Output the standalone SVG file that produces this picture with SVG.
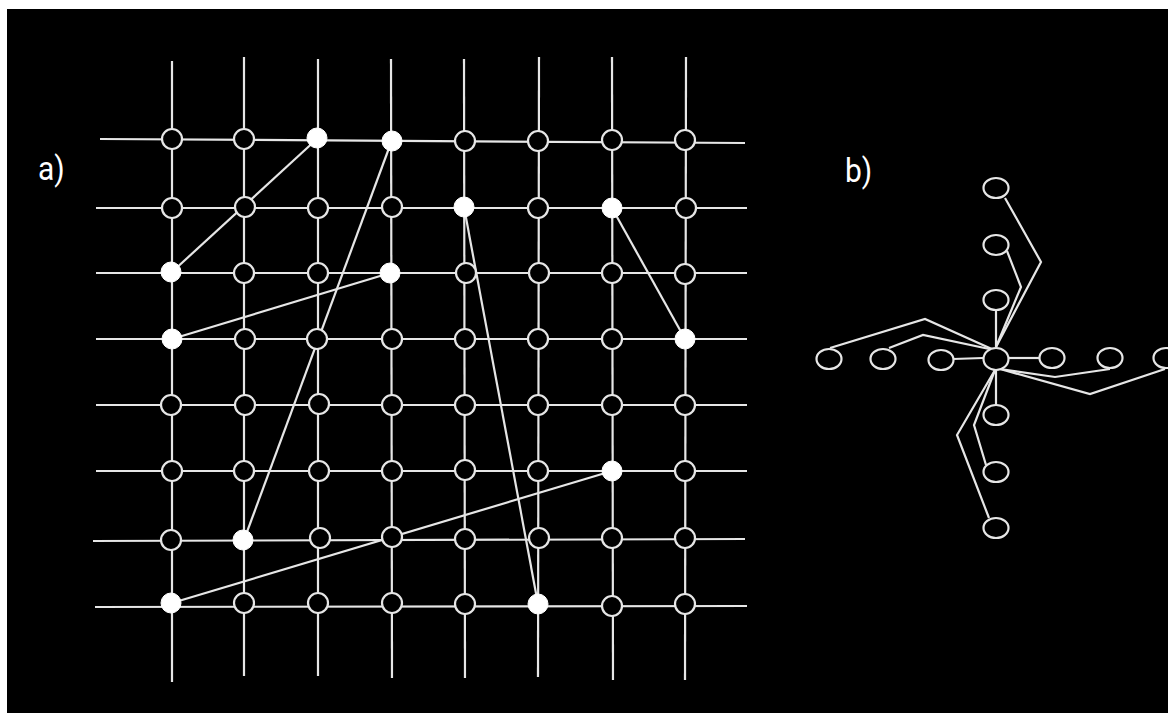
<svg xmlns="http://www.w3.org/2000/svg" width="1168" height="713" viewBox="0 0 1168 713">
<style>
.ln{stroke:#e6e6e6;stroke-width:2.2;fill:none}
.n{fill:#000;stroke:#e6e6e6;stroke-width:2.2}
.f{fill:#fff;stroke:#fff;stroke-width:1}
.lbl{font-family:Roboto,"Liberation Sans",sans-serif;font-size:34px;fill:#fff}
</style>
<rect x="0" y="0" width="1168" height="713" fill="#fff"/>
<rect x="7" y="9" width="1161" height="704" fill="#000"/>
<text class="lbl" transform="translate(38,180) scale(0.88,1)">a)</text>
<text class="lbl" transform="translate(845,182) scale(0.88,1)">b)</text>
<g id="grid" class="ln">
<line x1="172" y1="61" x2="172" y2="682"/>
<line x1="244" y1="57" x2="244" y2="676"/>
<line x1="318" y1="59" x2="318" y2="676"/>
<line x1="391" y1="59" x2="392" y2="678"/>
<line x1="464" y1="59" x2="465" y2="678"/>
<line x1="539" y1="57" x2="538" y2="677"/>
<line x1="612" y1="57" x2="613" y2="680"/>
<line x1="686" y1="57" x2="685" y2="680"/>
<line x1="100" y1="139" x2="745" y2="143"/>
<line x1="96" y1="208" x2="747" y2="208"/>
<line x1="96" y1="273" x2="747" y2="273"/>
<line x1="96" y1="339" x2="747" y2="339"/>
<line x1="96" y1="405" x2="747" y2="405"/>
<line x1="96" y1="471" x2="747" y2="471"/>
<line x1="93" y1="541" x2="745" y2="539"/>
<line x1="95" y1="607" x2="747" y2="606"/>
</g>
<g id="connectors" class="ln">
<line x1="318" y1="138" x2="172" y2="272"/>
<line x1="392" y1="140" x2="244" y2="540"/>
<line x1="390" y1="273" x2="172" y2="339"/>
<line x1="464" y1="207" x2="538" y2="604"/>
<line x1="612" y1="208" x2="685" y2="339"/>
<line x1="612" y1="471" x2="172" y2="603"/>
<line x1="996" y1="311" x2="996" y2="347"/>
<polyline points="1007,251 1021,287 996,347"/>
<polyline points="1005,198 1041,262 996,347"/>
<line x1="953" y1="359" x2="983" y2="358"/>
<polyline points="889,348 923,335 994,350"/>
<polyline points="830,348 925,319 994,350"/>
<line x1="1008" y1="358" x2="1040" y2="358"/>
<polyline points="1000,369 1055,377 1110,369"/>
<polyline points="1000,369 1090,394 1165,369"/>
<line x1="996" y1="369" x2="996" y2="405"/>
<polyline points="995,370 974,425 986,465"/>
<polyline points="995,370 957,435 989,518"/>
</g>
<g id="nodes-a">
<circle class="n" cx="172" cy="139" r="10"/>
<circle class="n" cx="244" cy="139" r="10"/>
<circle class="f" cx="317" cy="138" r="10"/>
<circle class="f" cx="392" cy="141" r="10"/>
<circle class="n" cx="465" cy="141" r="10"/>
<circle class="n" cx="538" cy="141" r="10"/>
<circle class="n" cx="612" cy="140" r="10"/>
<circle class="n" cx="685" cy="140" r="10"/>

<circle class="n" cx="172" cy="208" r="10"/>
<circle class="n" cx="245" cy="207" r="10"/>
<circle class="n" cx="318" cy="208" r="10"/>
<circle class="n" cx="392" cy="207" r="10"/>
<circle class="f" cx="464" cy="207" r="10"/>
<circle class="n" cx="538" cy="208" r="10"/>
<circle class="f" cx="612" cy="208" r="10"/>
<circle class="n" cx="686" cy="208" r="10"/>

<circle class="f" cx="171" cy="272" r="10"/>
<circle class="n" cx="244" cy="273" r="10"/>
<circle class="n" cx="318" cy="273" r="10"/>
<circle class="f" cx="390" cy="273" r="10"/>
<circle class="n" cx="466" cy="273" r="10"/>
<circle class="n" cx="539" cy="273" r="10"/>
<circle class="n" cx="612" cy="273" r="10"/>
<circle class="n" cx="685" cy="274" r="10"/>

<circle class="f" cx="172" cy="339" r="10"/>
<circle class="n" cx="245" cy="339" r="10"/>
<circle class="n" cx="317" cy="339" r="10"/>
<circle class="n" cx="392" cy="339" r="10"/>
<circle class="n" cx="465" cy="339" r="10"/>
<circle class="n" cx="538" cy="339" r="10"/>
<circle class="n" cx="612" cy="339" r="10"/>
<circle class="f" cx="685" cy="339" r="10"/>

<circle class="n" cx="171" cy="405" r="10"/>
<circle class="n" cx="245" cy="405" r="10"/>
<circle class="n" cx="319" cy="404" r="10"/>
<circle class="n" cx="392" cy="405" r="10"/>
<circle class="n" cx="465" cy="405" r="10"/>
<circle class="n" cx="538" cy="405" r="10"/>
<circle class="n" cx="612" cy="405" r="10"/>
<circle class="n" cx="685" cy="405" r="10"/>

<circle class="n" cx="172" cy="471" r="10"/>
<circle class="n" cx="244" cy="471" r="10"/>
<circle class="n" cx="319" cy="471" r="10"/>
<circle class="n" cx="392" cy="471" r="10"/>
<circle class="n" cx="465" cy="470" r="10"/>
<circle class="n" cx="538" cy="471" r="10"/>
<circle class="f" cx="612" cy="471" r="10"/>
<circle class="n" cx="685" cy="471" r="10"/>

<circle class="n" cx="171" cy="540" r="10"/>
<circle class="f" cx="243" cy="540" r="10"/>
<circle class="n" cx="320" cy="538" r="10"/>
<circle class="n" cx="392" cy="537" r="10"/>
<circle class="n" cx="465" cy="539" r="10"/>
<circle class="n" cx="539" cy="538" r="10"/>
<circle class="n" cx="612" cy="538" r="10"/>
<circle class="n" cx="685" cy="538" r="10"/>

<circle class="f" cx="171" cy="603" r="10"/>
<circle class="n" cx="244" cy="603" r="10"/>
<circle class="n" cx="318" cy="603" r="10"/>
<circle class="n" cx="392" cy="603" r="10"/>
<circle class="n" cx="465" cy="604" r="10"/>
<circle class="f" cx="538" cy="604" r="10"/>
<circle class="n" cx="612" cy="606" r="10"/>
<circle class="n" cx="685" cy="604" r="10"/>
</g>
<g id="nodes-b">
<ellipse class="n" cx="996" cy="188" rx="12.5" ry="10"/>
<ellipse class="n" cx="996" cy="245" rx="12.5" ry="10"/>
<ellipse class="n" cx="996" cy="300" rx="12.5" ry="10"/>
<ellipse class="n" cx="829" cy="359" rx="12.5" ry="10"/>
<ellipse class="n" cx="883" cy="359" rx="12.5" ry="10"/>
<ellipse class="n" cx="941" cy="360" rx="12.5" ry="10"/>
<ellipse class="n" cx="996" cy="359" rx="12.5" ry="11"/>
<ellipse class="n" cx="1052" cy="358" rx="12.5" ry="10"/>
<ellipse class="n" cx="1110" cy="358" rx="12.5" ry="10"/>
<ellipse class="n" cx="1166" cy="358" rx="12.5" ry="10"/>
<ellipse class="n" cx="996" cy="415" rx="12.5" ry="10"/>
<ellipse class="n" cx="996" cy="472" rx="12.5" ry="10"/>
<ellipse class="n" cx="996" cy="528" rx="12.5" ry="10"/>
</g>
</svg>
